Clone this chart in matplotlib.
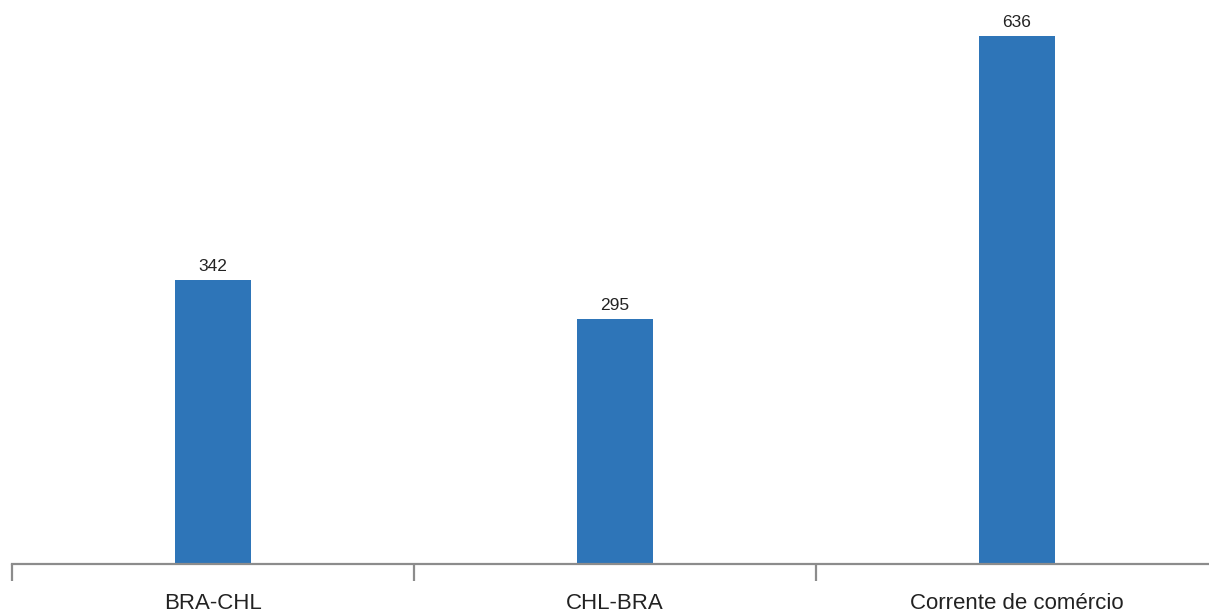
import matplotlib
matplotlib.use("Agg")
import matplotlib.pyplot as plt
import numpy as np

categories = ["BRA-CHL", "CHL-BRA", "Corrente de comércio"]
values = [342, 295, 636]

plt.rcParams["font.family"] = ["Liberation Sans", "DejaVu Sans"]

fig = plt.figure(figsize=(12.09, 6.12), dpi=100)
ax = fig.add_axes([12 / 1209, (612 - 563.5) / 612, 1 - 12 / 1209, 563.5 / 612])

x = np.arange(len(categories))
bars = ax.bar(x, values, width=0.19, color="#2E75B8", zorder=2)

for rect, v in zip(bars, values):
    ax.annotate(f"{v}", (rect.get_x() + rect.get_width() / 2, v),
                xytext=(0, 4), textcoords="offset points",
                ha="center", va="bottom", fontsize=12.5, color="#222222")

ax.set_xlim(-0.5, 2.5 - 9 / 402)
ax.set_ylim(0, 679)

for s in ["top", "right", "left"]:
    ax.spines[s].set_visible(False)
ax.spines["bottom"].set_color("#8c8c8c")
ax.spines["bottom"].set_linewidth(1.6)
ax.set_yticks([])

# category separators as major ticks, names as minor ticks
ax.set_xticks([-0.5, 0.5, 1.5])
ax.set_xticklabels([])
ax.tick_params(axis="x", which="major", length=12, width=1.6, color="#8c8c8c")
ax.set_xticks(x, minor=True)
ax.set_xticklabels(categories, minor=True)
ax.tick_params(axis="x", which="minor", length=0, pad=21, labelsize=16, labelcolor="#222222")

fig.savefig("out.png", dpi=100)
